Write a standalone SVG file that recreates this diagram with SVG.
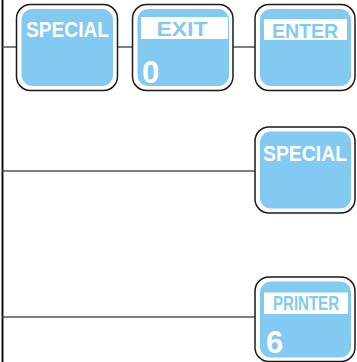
<svg xmlns="http://www.w3.org/2000/svg" width="357" height="362" viewBox="0 0 357 362">
<style>
.outer{fill:#fff;stroke:#1a1a1a;stroke-width:1.5}
.inner{fill:#82CAF2}
.bar{fill:#fff}
.lbl{font-family:"Liberation Sans",Arial,sans-serif;font-weight:bold;font-size:22px;fill:#fff}
.blbl{font-family:"Liberation Sans",Arial,sans-serif;font-weight:bold;font-size:20px;fill:#82CAF2}
.num{font-family:"Liberation Sans",Arial,sans-serif;font-weight:bold;font-size:31px;fill:#fff}
.wire{stroke:#555;stroke-width:1.5;fill:none}
</style>
<rect width="357" height="362" fill="#fff"/>
<g id="connectors">
<line x1="2.5" y1="0" x2="2.5" y2="362" stroke="#111" stroke-width="2"/>
<line class="wire" x1="2.5" y1="47" x2="16.5" y2="47"/>
<line class="wire" x1="117.5" y1="47" x2="132.5" y2="47"/>
<line class="wire" x1="233" y1="47" x2="255" y2="47"/>
<line class="wire" x1="2.5" y1="171" x2="255" y2="171"/>
<line class="wire" x1="2.5" y1="317" x2="255" y2="317"/>
</g>
<g id="key-special-1">
<rect class="outer" x="16.5" y="4.5" width="101" height="86" rx="14"/>
<rect class="inner" x="21.5" y="9" width="91.5" height="77" rx="11"/>
<text class="lbl" x="26" y="36.5" textLength="83" lengthAdjust="spacingAndGlyphs">SPECIAL</text>
</g>
<g id="key-exit">
<rect class="outer" x="132.5" y="4.5" width="100.5" height="86" rx="14"/>
<rect class="inner" x="137.5" y="9" width="91.5" height="77" rx="11"/>
<rect class="bar" x="141" y="17" width="87" height="22"/>
<text class="blbl" x="182" y="35.5" text-anchor="middle" textLength="51" lengthAdjust="spacingAndGlyphs">EXIT</text>
<text class="num" x="142" y="82.5">0</text>
</g>
<g id="key-enter">
<rect class="outer" x="255" y="4.5" width="100" height="86" rx="14"/>
<rect class="inner" x="260" y="9" width="91" height="77" rx="11"/>
<rect class="bar" x="264" y="19" width="83" height="21"/>
<text class="blbl" x="305" y="37.5" text-anchor="middle" textLength="66" lengthAdjust="spacingAndGlyphs">ENTER</text>
</g>
<g id="key-special-2">
<rect class="outer" x="255" y="127" width="100" height="86" rx="14"/>
<rect class="inner" x="260" y="131.5" width="91" height="77" rx="11"/>
<text class="lbl" x="263" y="160.5" textLength="84" lengthAdjust="spacingAndGlyphs">SPECIAL</text>
</g>
<g id="key-printer">
<rect class="outer" x="255" y="277" width="100" height="84.5" rx="14"/>
<rect class="inner" x="260" y="281.5" width="91" height="76" rx="11"/>
<rect class="bar" x="264" y="292.5" width="84" height="21.5"/>
<text class="blbl" x="306" y="309.5" text-anchor="middle" font-size="17" textLength="66" lengthAdjust="spacingAndGlyphs">PRINTER</text>
<text class="num" x="266" y="352.5" font-size="29">6</text>
</g>
</svg>
